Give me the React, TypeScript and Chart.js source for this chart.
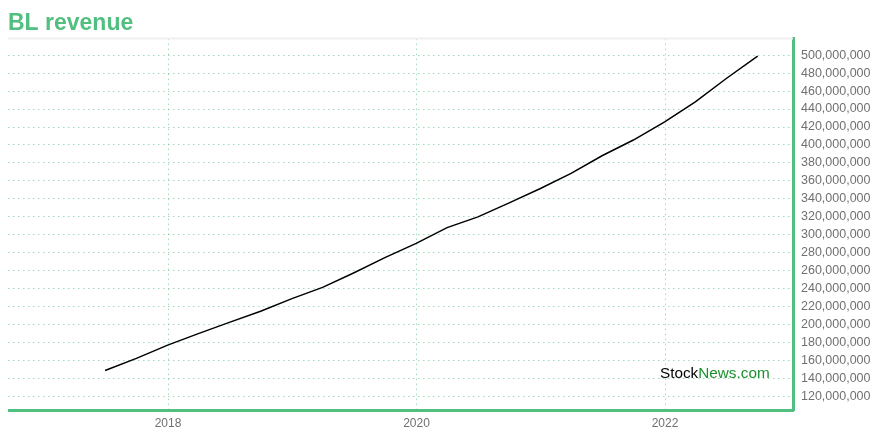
import React, { useEffect, useRef } from "react";
import { Chart, registerables } from "chart.js";

Chart.register(...registerables);

const TITLE = "BL revenue";
const quarterEnds = [
  "2017-06-30", "2017-09-30", "2017-12-31",
  "2018-03-31", "2018-06-30", "2018-09-30", "2018-12-31",
  "2019-03-31", "2019-06-30", "2019-09-30", "2019-12-31",
  "2020-03-31", "2020-06-30", "2020-09-30", "2020-12-31",
  "2021-03-31", "2021-06-30", "2021-09-30", "2021-12-31",
  "2022-03-31", "2022-06-30", "2022-09-30",
];
const revenueMillions = [
  149, 162.5, 177.2,
  190, 202.5, 215, 229,
  241.5, 257.5, 274.6, 290.5,
  308, 320, 335.5, 351.5,
  368.4, 388, 405.5, 425.7,
  448, 474, 499,
];
const xTickYears = [2018, 2020, 2022];
const yTickValues = [
  120e6, 140e6, 160e6, 180e6, 200e6, 220e6, 240e6, 260e6, 280e6, 300e6,
  320e6, 340e6, 360e6, 380e6, 400e6, 420e6, 440e6, 460e6, 480e6, 500e6,
];

const GREEN = "#52bf80";
const GRID = "rgba(82,191,128,0.55)";
const FONT = "'Liberation Sans', Arial, Helvetica, sans-serif";

function decimalYear(s: string): number {
  const d = new Date(s + "T00:00:00Z");
  const y = d.getUTCFullYear();
  const start = Date.UTC(y, 0, 1);
  const end = Date.UTC(y + 1, 0, 1);
  return y + (d.getTime() - start) / (end - start);
}

const extrasPlugin = {
  id: "extras",
  beforeDatasetsDraw(chart: any) {
    const { ctx, chartArea } = chart;
    ctx.save();
    ctx.strokeStyle = "#efefef";
    ctx.lineWidth = 2;
    ctx.beginPath();
    ctx.moveTo(chartArea.left, chartArea.top);
    ctx.lineTo(chartArea.right, chartArea.top);
    ctx.stroke();
    ctx.restore();
  },
  afterDatasetsDraw(chart: any) {
    const { ctx, chartArea } = chart;
    ctx.save();
    ctx.font = `15.3px ${FONT}`;
    ctx.textBaseline = "middle";
    ctx.textAlign = "left";
    const x = chartArea.right - 133;
    const y = chartArea.bottom - 36;
    ctx.fillStyle = "#000";
    ctx.fillText("Stock", x, y);
    const w = ctx.measureText("Stock").width;
    ctx.fillStyle = "#1a8f2c";
    ctx.fillText("News.com", x + w, y);
    ctx.restore();
  },
};

export default function App() {
  const ref = useRef<HTMLCanvasElement | null>(null);
  useEffect(() => {
    if (!ref.current) return;
    const data = quarterEnds.map((d, i) => ({ x: decimalYear(d), y: revenueMillions[i] * 1e6 }));
    const chart = new Chart(ref.current, {
      type: "line",
      data: {
        datasets: [
          {
            data,
            borderColor: "#000",
            borderWidth: 1.5,
            pointRadius: 0,
            tension: 0,
            fill: false,
          },
        ],
      },
      plugins: [extrasPlugin],
      options: {
        animation: false,
        responsive: true,
        maintainAspectRatio: false,
        layout: { padding: 0 },
        plugins: {
          legend: { display: false },
          tooltip: { enabled: false },
          title: {
            display: true,
            text: TITLE,
            align: "start",
            color: GREEN,
            font: { family: FONT, size: 23, weight: "bold" },
            padding: { top: 2, bottom: 1 },
          },
        },
        scales: {
          x: {
            type: "linear",
            min: 2016.712,
            max: 2023.03,
            afterBuildTicks: (scale: any) => {
              scale.ticks = xTickYears.map((v) => ({ value: v }));
            },
            afterFit: (scale: any) => {
              scale.height = 22;
            },
            ticks: {
              color: "#707070",
              font: { family: FONT, size: 12 },
              padding: 6,
              maxRotation: 0,
              callback: (v: any) => String(v),
            },
            grid: {
              color: GRID,
              drawTicks: false,
            },
            border: { display: true, color: GREEN, width: 3, dash: [1.5, 3.5] } as any,
          },
          y: {
            type: "linear",
            position: "right",
            min: 105e6,
            max: 518.4e6,
            afterBuildTicks: (scale: any) => {
              scale.ticks = yTickValues.map((v) => ({ value: v }));
            },
            afterFit: (scale: any) => {
              scale.width = 79;
            },
            ticks: {
              color: "#707070",
              font: { family: FONT, size: 12.5 },
              padding: 8,
              callback: (v: any) => Number(v).toLocaleString("en-US"),
            },
            grid: {
              color: GRID,
              drawTicks: false,
            },
            border: { display: true, color: GREEN, width: 3, dash: [1.5, 3.5] } as any,
          },
        },
      } as any,
    });
    return () => chart.destroy();
  }, []);
  return (
    <div style={{ width: 864, height: 424, position: "relative" }}>
      <canvas ref={ref} />
    </div>
  );
}
